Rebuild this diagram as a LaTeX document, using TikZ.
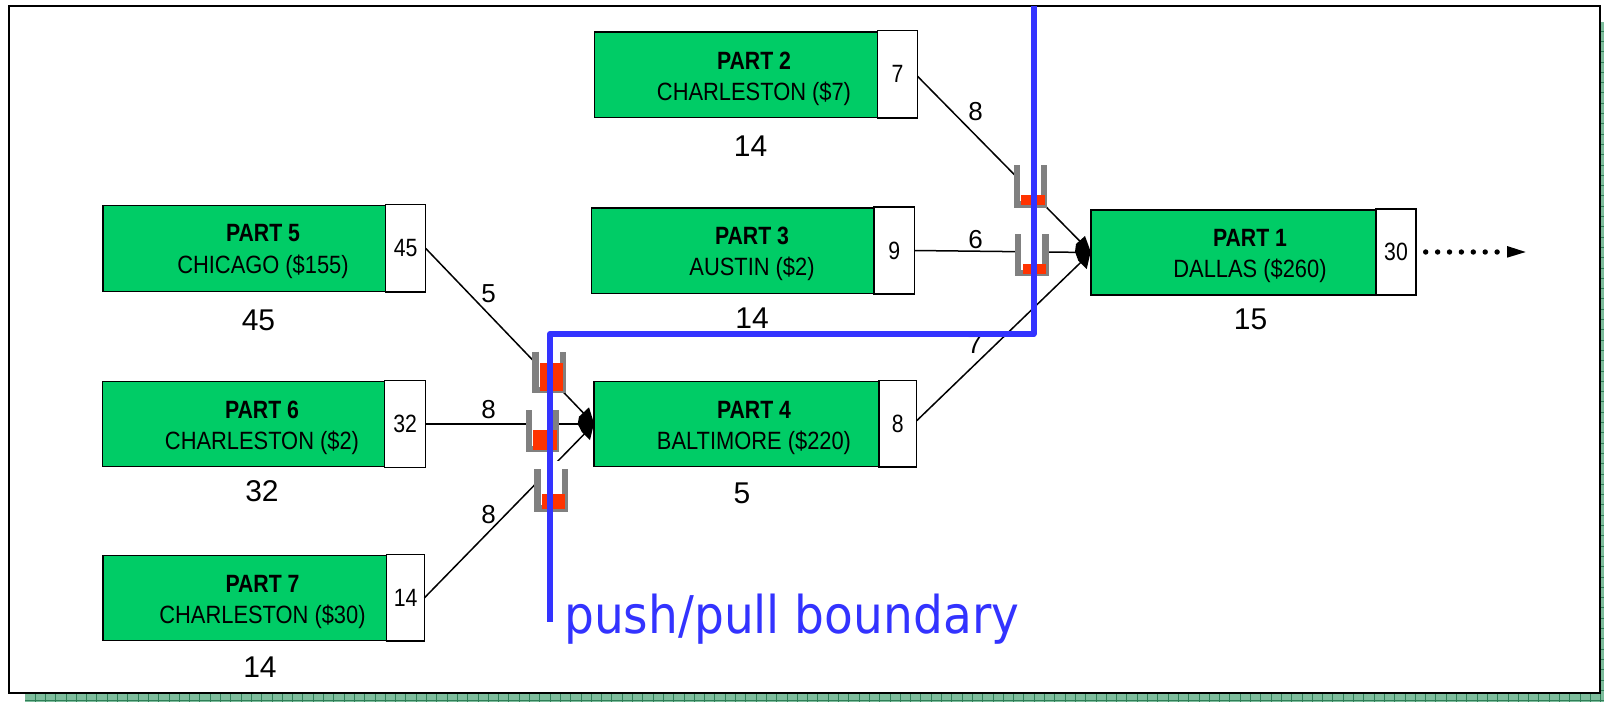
\documentclass[tikz,border=0pt]{standalone}
\usepackage{fontspec}
\setmainfont{Liberation Sans}
\newfontfamily\narrowfont[FakeStretch=0.85]{Liberation Sans}
\newfontfamily\subfont[FakeStretch=0.875]{Liberation Sans}
\newfontfamily\blueLabelFont[FakeStretch=0.905]{DejaVu Sans}
\definecolor{partgreen}{HTML}{00CC66}
\definecolor{bufred}{HTML}{FF3300}
\definecolor{bufgray}{HTML}{808080}
\definecolor{boundaryblue}{HTML}{3333FF}
\definecolor{shadowgreen}{HTML}{7DBD9C}
\definecolor{shadowline}{HTML}{2F8058}
\tikzset{
  greenbox/.style={draw=black,line width=1.5pt,fill=partgreen,inner sep=0pt,outer sep=0pt},
  numbox/.style={draw=black,line width=1.5pt,fill=white,inner sep=0pt,outer sep=0pt,font=\narrowfont\fontsize{25}{28}\selectfont},
  titletext/.style={inner sep=0pt,font=\narrowfont\bfseries\fontsize{25}{28}\selectfont},
  subtext/.style={inner sep=0pt,font=\subfont\fontsize{25}{28}\selectfont},
  qtylabel/.style={inner sep=0pt,font=\fontsize{30}{32}\selectfont},
  edgelabel/.style={inner sep=0pt,font=\fontsize{26}{28}\selectfont},
  linker/.style={draw=black,line width=1.5pt},
  bufspace/.style={fill=white,inner sep=0pt,outer sep=0pt,minimum width=33.6pt},
  bufwall/.style={draw=bufgray,line width=6.4pt,line cap=butt,line join=miter},
  boundary/.style={draw=boundaryblue,line width=6pt,line join=round},
}
\def\partbox#1#2#3#4#5#6#7#8#9{\def\pid{#1}\def\gl{#2}\def\gr{#3}\def\gt{#4}\def\gb{#5}\def\nr{#6}\def\nt{#7}\def\nb{#8}\def\tx{#9}\partboxC}
\def\partboxC#1#2#3#4#5{%
  \pgfmathsetmacro{\gw}{\gr-\gl}\pgfmathsetmacro{\gh}{\gb-\gt}
  \pgfmathsetmacro{\nw}{\nr-\gr}\pgfmathsetmacro{\nh}{\nb-\nt}
  \node[greenbox,minimum width=\gw pt,minimum height=\gh pt] (g\pid) at ({(\gl+\gr)/2},{(\gt+\gb)/2}) {};
  \node[numbox,minimum width=\nw pt,minimum height=\nh pt] (n\pid) at ({(\gr+\nr)/2},{(\nt+\nb)/2}) {\raisebox{-1.5pt}{#5}};
  \node[titletext] (t\pid) at (\tx,#1) {#3};
  \node[subtext] (s\pid) at (\tx,#2) {#4};
}
% name, left, top (walls), bottom, red top, extra white above
\newcommand{\bufferglass}[6]{%
  \pgfmathsetmacro{\bh}{#4-#3+#6}
  \node[bufspace,minimum height=\bh pt] (#1) at ({#2+16.8},{(#3-#6+#4)/2}) {};
  \draw[bufwall] ({#2+3.2},#3) -- ({#2+3.2},{#4-3.2}) -- ({#2+30.4},{#4-3.2}) -- ({#2+30.4},#3);
  \fill[bufred] ({#2+7.6},#5) rectangle ({#2+30.8},{#4-2.6});
}
\begin{document}
\begin{tikzpicture}[x=1pt,y=-1pt]
\useasboundingbox (0,0) rectangle (1604,702);
\fill[white] (0,0) rectangle (1604,702);
% drop shadow of the frame
\fill[shadowgreen] (25,22) rectangle (1604,702);
\begin{scope}
  \clip (25,22) rectangle (1604,702);
  \foreach \i in {0,...,153} {\draw[shadowline,line width=0.8pt] ({35+10.3*\i},22) -- ({35+10.3*\i},702);}
  \foreach \i in {0,...,65} {\draw[shadowline,line width=0.8pt] (25,{31+10.3*\i}) -- (1604,{31+10.3*\i});}
\end{scope}
% frame
\node[draw=black,fill=white,line width=2.2pt,inner sep=0pt,outer sep=0pt,minimum width=1590.5pt,minimum height=687.5pt] (frame) at (804.6,349.6) {};

\partbox{2}{594.5}{877.5}{32}{117.5}{917.5}{30.5}{118}{754}{60.5}{94}{PART 2}{CHARLESTON (\$7)}{7}
\partbox{3}{591.5}{874}{208}{293.5}{914.5}{207}{294}{752}{235.5}{269}{PART 3}{AUSTIN (\$2)}{9}
\partbox{1}{1091}{1376}{210}{295}{1416}{209}{295}{1250}{237.5}{271}{PART 1}{DALLAS (\$260)}{30}
\partbox{5}{103}{385.7}{205.6}{291.6}{425.6}{204.6}{292}{263}{233.5}{267}{PART 5}{CHICAGO (\$155)}{45}
\partbox{6}{102.5}{384.6}{381.6}{466.5}{425.6}{380.6}{467.5}{262}{409.5}{443}{PART 6}{CHARLESTON (\$2)}{32}
\partbox{7}{103}{386.7}{555.5}{640.4}{424.5}{554.5}{641}{262.5}{583.5}{617}{PART 7}{CHARLESTON (\$30)}{14}
\partbox{4}{594}{878.8}{381.6}{466.5}{916.6}{380.6}{467}{754}{409.5}{443}{PART 4}{BALTIMORE (\$220)}{8}

% connectors
\draw[linker] (n5.east) -- (g4.west);
\draw[linker] (n6.east) -- (g4.west);
\draw[linker] (n7.east) -- (g4.west);
\draw[linker] ([yshift=-2pt]n2.east) -- (g1.west);
\draw[linker] (n3.east) -- (g1.west);
\draw[linker] ([yshift=3pt]n4.east) -- (g1.west);

% merged arrowheads
\fill[black] (589,407.3) -- (594,423.3) -- (590,440) -- (581.7,431.7) -- (577.7,424) -- (579,416.7) -- cycle;
\fill[black] (1085,236) -- (1090.7,251.7) -- (1086.7,269) -- (1078.3,260.7) -- (1075,251.7) -- (1076,244) -- cycle;

% buffers
\bufferglass{bA}{532.3}{351.7}{393.3}{362.7}{0}
\bufferglass{bB}{525.7}{410}{452.3}{430}{0}
\bufferglass{bC}{534.3}{469}{511.7}{494}{8}
\bufferglass{bD}{1013.7}{165}{207.7}{195}{0}
\bufferglass{bE}{1015}{234.3}{276.3}{264}{0}

% quantities
\node[qtylabel] (q2) at (750.5,146.5) {14};
\node[qtylabel] (q3) at (752,318.5) {14};
\node[qtylabel] (q1) at (1250.5,319) {15};
\node[qtylabel] (q5) at (258.5,320.5) {45};
\node[qtylabel] (q6) at (262,491.5) {32};
\node[qtylabel] (q7) at (260,667.5) {14};
\node[qtylabel] (q4) at (742,493.5) {5};

% edge labels
\node[edgelabel] (e2) at (975.5,111.5) {8};
\node[edgelabel] (e3) at (975.5,239.4) {6};
\node[edgelabel] (e4) at (974.5,345) {7};
\node[edgelabel] (e5) at (488.5,293.6) {5};
\node[edgelabel] (e6) at (488.5,410) {8};
\node[edgelabel] (e7) at (488.5,514.6) {8};

% dotted output arrow
\coordinate (dotA) at (1425.7,252);
\coordinate (dotB) at (1505,252);
\draw[black,line width=5.4pt,line cap=round,dash pattern=on 0pt off 11.9pt] (dotA) -- (dotB);
\fill[black] (1507,246) -- (1525.7,252) -- (1507,257.7) -- cycle;

% push/pull boundary
\coordinate (bndStart) at (550,621.7);
\coordinate (bndLow) at (550,334);
\coordinate (bndHigh) at (1033.5,334);
\coordinate (bndEnd) at (1033.5,6);
\draw[boundary] (bndStart) -- (bndLow) -- (bndHigh) -- (bndEnd);
\node[inner sep=0pt,anchor=base west,text=boundaryblue,font=\blueLabelFont\fontsize{52}{54}\selectfont] (bndLabel) at (564,633.5) {push/pull boundary};
\end{tikzpicture}
\end{document}
